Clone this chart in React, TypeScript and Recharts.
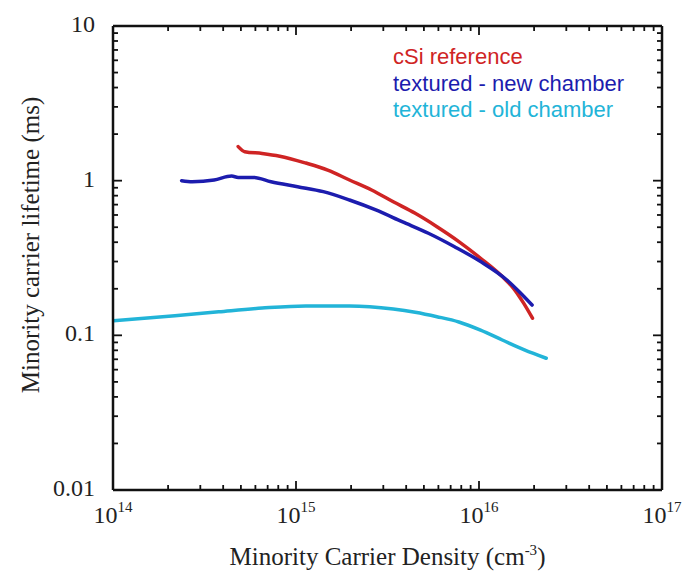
import React from "react";
import { LineChart, Line, XAxis, YAxis, Legend } from "recharts";

// ---- data ----
const cSiDensity = [4.83e14, 5.25e14, 6.53e14, 8.15e14, 1.13e15, 1.49e15, 1.96e15, 2.59e15, 3.4e15, 4.48e15, 5.89e15, 7.76e15, 1.02e16, 1.34e16, 1.54e16, 1.75e16, 1.96e16];
const cSiLifetime = [1.66, 1.54, 1.5, 1.44, 1.3, 1.17, 1.01, 0.871, 0.731, 0.615, 0.504, 0.404, 0.315, 0.24, 0.202, 0.162, 0.129];

const newDensity = [2.37e14, 2.71e14, 3.57e14, 4.45e14, 4.83e14, 5.86e14, 7.3e14, 1.02e15, 1.41e15, 1.96e15, 2.73e15, 3.8e15, 5.29e15, 7.35e15, 1.02e16, 1.42e16, 1.67e16, 1.95e16];
const newLifetime = [1.0, 0.985, 1.01, 1.07, 1.05, 1.05, 0.985, 0.914, 0.849, 0.75, 0.647, 0.543, 0.457, 0.374, 0.3, 0.228, 0.19, 0.157];

const oldDensity = [1.0e14, 2.18e14, 3.78e14, 6.53e14, 1.13e15, 1.96e15, 3.4e15, 4.48e15, 5.89e15, 7.76e15, 1.02e16, 1.34e16, 1.77e16, 2.33e16];
const oldLifetime = [0.124, 0.134, 0.142, 0.15, 0.155, 0.155, 0.148, 0.141, 0.132, 0.122, 0.108, 0.0933, 0.0805, 0.0711];

const seriesNames = ["cSi  reference", "textured - new chamber", "textured - old chamber"];
const seriesColors = ["#cf2424", "#1c1cae", "#22b4d8"];

const xMajorExponents = [14, 15, 16, 17];
const yMajorValues = [0.01, 0.1, 1, 10];
const yMajorLabels = ["0.01", "0.1", "1", "10"];
const minorMantissas = [2, 3, 4, 5, 6, 7, 8, 9];

const xTitle = "Minority Carrier Density (cm";
const xTitleSup = "-3";
const yTitle = "Minority carrier lifetime (ms)";

// ---- derived ----
const toPoints = (xs: number[], ys: number[]) => xs.map((x, i) => ({ x, y: ys[i] }));
const cSiData = toPoints(cSiDensity, cSiLifetime);
const newData = toPoints(newDensity, newLifetime);
const oldData = toPoints(oldDensity, oldLifetime);

const xMajors = xMajorExponents.map((e) => Math.pow(10, e));
const xTicks: number[] = [];
xMajors.forEach((m, i) => {
  xTicks.push(m);
  if (i < xMajors.length - 1) minorMantissas.forEach((k) => xTicks.push(k * m));
});
const yTicks: number[] = [];
yMajorValues.forEach((m, i) => {
  yTicks.push(m);
  if (i < yMajorValues.length - 1) minorMantissas.forEach((k) => yTicks.push(Number((k * m).toPrecision(3))));
});

const isMajorX = (v: number) => xMajors.some((m) => Math.abs(v / m - 1) < 1e-6);
const majorYIndex = (v: number) => yMajorValues.findIndex((m) => Math.abs(v / m - 1) < 1e-6);

const SERIF = "'Liberation Serif', 'Times New Roman', serif";
const SANS = "'Liberation Sans', Arial, sans-serif";
const AXIS = "#111";
const TEXT = "#222";
const MAJOR_LEN = 9;
const MINOR_LEN = 5;

const BottomTick = (props: any) => {
  const { x, y, payload } = props;
  const v = payload.value;
  const major = isMajorX(v);
  const exp = Math.round(Math.log10(v));
  return (
    <g>
      <line x1={x} y1={y} x2={x} y2={y - (major ? MAJOR_LEN : MINOR_LEN)} stroke={AXIS} strokeWidth={1.8} />
      {major && (
        <text x={x} y={y + 33} textAnchor="middle" fontFamily={SERIF} fontSize={24} fill={TEXT}>
          10
          <tspan dy={-11} fontSize={15}>{String(exp)}</tspan>
        </text>
      )}
    </g>
  );
};

const TopTick = (props: any) => {
  const { x, y, payload } = props;
  const major = isMajorX(payload.value);
  return <line x1={x} y1={y} x2={x} y2={y + (major ? MAJOR_LEN : MINOR_LEN)} stroke={AXIS} strokeWidth={1.8} />;
};

const LeftTick = (props: any) => {
  const { x, y, payload } = props;
  const idx = majorYIndex(payload.value);
  const major = idx >= 0;
  return (
    <g>
      <line x1={x} y1={y} x2={x + (major ? MAJOR_LEN : MINOR_LEN)} y2={y} stroke={AXIS} strokeWidth={1.8} />
      {major && (
        <text x={x - 18} y={y + 6} textAnchor="end" fontFamily={SERIF} fontSize={24} fill={TEXT}>
          {yMajorLabels[idx]}
        </text>
      )}
    </g>
  );
};

const RightTick = (props: any) => {
  const { x, y, payload } = props;
  const major = majorYIndex(payload.value) >= 0;
  return <line x1={x} y1={y} x2={x - (major ? MAJOR_LEN : MINOR_LEN)} y2={y} stroke={AXIS} strokeWidth={1.8} />;
};

const XTitle = (props: any) => {
  const vb = props.viewBox;
  return (
    <text x={vb.x + vb.width / 2} y={vb.y + 75} textAnchor="middle" fontFamily={SERIF} fontSize={25} fill={TEXT}>
      {xTitle}
      <tspan dy={-10} fontSize={15}>{xTitleSup}</tspan>
      <tspan dy={10}>)</tspan>
    </text>
  );
};

const YTitle = (props: any) => {
  const vb = props.viewBox;
  const cx = vb.x + vb.width - 74;
  const cy = vb.y + vb.height / 2 - 13;
  return (
    <text x={cx} y={cy} transform={`rotate(-90, ${cx}, ${cy})`} textAnchor="middle" fontFamily={SERIF} fontSize={25} fill={TEXT}>
      {yTitle}
    </text>
  );
};

const LegendContent = (props: any) => {
  const items = props.payload || [];
  return (
    <div style={{ fontFamily: SANS, fontSize: 22, lineHeight: "26.5px", whiteSpace: "nowrap" }}>
      {items.map((it: any) => (
        <div key={it.value} style={{ color: it.color }}>{it.value}</div>
      ))}
    </div>
  );
};

export default function App() {
  return (
    <div style={{ position: "absolute", left: 0, top: 0 }}>
      <LineChart
        width={685}
        height={575}
        margin={{ top: 6, right: 3, bottom: 55, left: 53 }}
      >
        <XAxis
          dataKey="x"
          type="number"
          scale="log"
          domain={[xMajors[0], xMajors[xMajors.length - 1]]}
          allowDataOverflow
          ticks={xTicks}
          interval={0}
          tickSize={0}
          tickMargin={0}
          tickLine={false}
          height={30}
          axisLine={{ stroke: AXIS, strokeWidth: 2.5 }}
          tick={<BottomTick />}
          label={{ content: <XTitle /> }}
        />
        <XAxis
          xAxisId="top"
          orientation="top"
          dataKey="x"
          type="number"
          scale="log"
          domain={[xMajors[0], xMajors[xMajors.length - 1]]}
          allowDataOverflow
          ticks={xTicks}
          interval={0}
          tickSize={0}
          tickMargin={0}
          tickLine={false}
          height={20}
          axisLine={{ stroke: AXIS, strokeWidth: 2.5 }}
          tick={<TopTick />}
        />
        <YAxis
          type="number"
          scale="log"
          domain={[yMajorValues[0], yMajorValues[yMajorValues.length - 1]]}
          allowDataOverflow
          ticks={yTicks}
          interval={0}
          tickSize={0}
          tickMargin={0}
          tickLine={false}
          width={60}
          axisLine={{ stroke: AXIS, strokeWidth: 2.5 }}
          tick={<LeftTick />}
          label={{ content: <YTitle /> }}
        />
        <YAxis
          yAxisId="right"
          orientation="right"
          type="number"
          scale="log"
          domain={[yMajorValues[0], yMajorValues[yMajorValues.length - 1]]}
          allowDataOverflow
          ticks={yTicks}
          interval={0}
          tickSize={0}
          tickMargin={0}
          tickLine={false}
          width={20}
          axisLine={{ stroke: AXIS, strokeWidth: 2.5 }}
          tick={<RightTick />}
        />
        <Legend
          layout="horizontal"
          verticalAlign="middle"
          align="center"
          content={<LegendContent />}
          wrapperStyle={{ top: 44, left: 393, width: "auto", height: "auto" }}
        />
        <Line data={cSiData} dataKey="y" name={seriesNames[0]} stroke={seriesColors[0]} strokeWidth={3.5} dot={false} type="monotone" strokeLinecap="round" isAnimationActive={false} />
        <Line data={newData} dataKey="y" name={seriesNames[1]} stroke={seriesColors[1]} strokeWidth={3.5} dot={false} type="monotone" strokeLinecap="round" isAnimationActive={false} />
        <Line data={oldData} dataKey="y" name={seriesNames[2]} stroke={seriesColors[2]} strokeWidth={3.5} dot={false} type="monotone" strokeLinecap="round" isAnimationActive={false} />
      </LineChart>
    </div>
  );
}
